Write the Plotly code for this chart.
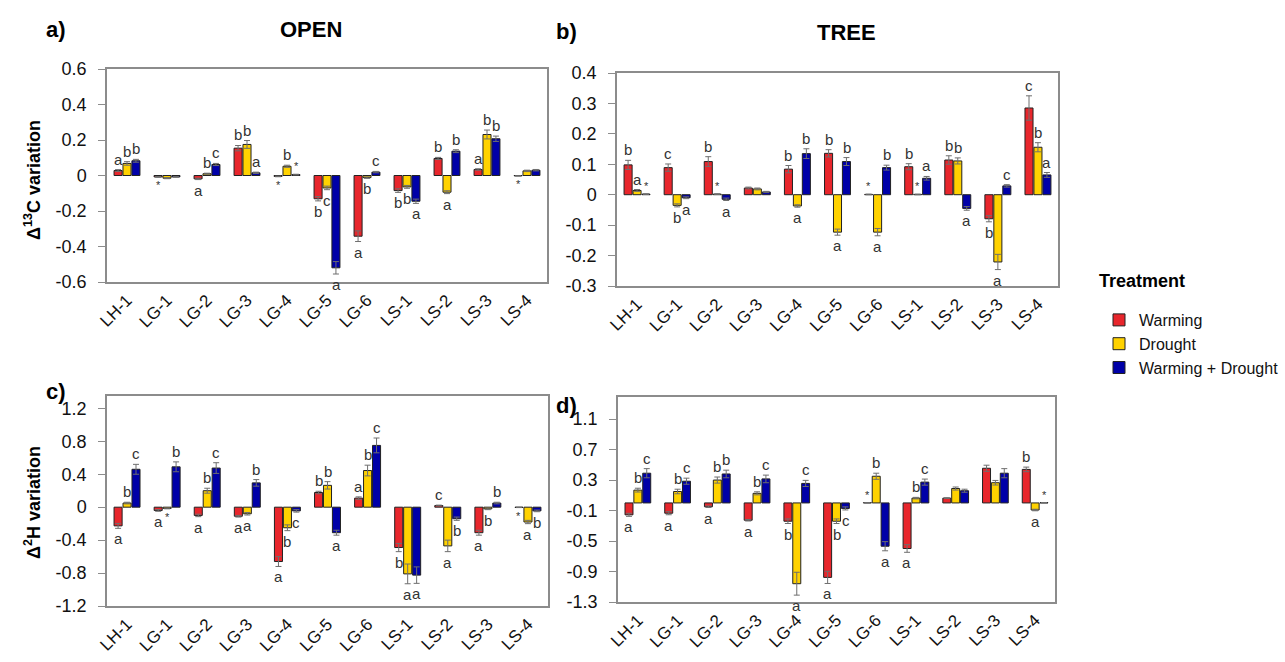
import plotly.graph_objects as go

W, H = 1285, 662

categories = ["LH-1", "LG-1", "LG-2", "LG-3", "LG-4", "LG-5", "LG-6", "LS-1", "LS-2", "LS-3", "LS-4"]
treatments = ["Warming", "Drought", "Warming + Drought"]
colors = ["#E8262C", "#FFD200", "#0000A8"]

# Panel a: OPEN, delta 13C
a_warming = [0.028, -0.008, -0.019, 0.154, -0.005, -0.131, -0.342, -0.085, 0.096, 0.034, -0.002]
a_drought = [0.068, -0.015, 0.010, 0.175, 0.052, -0.070, -0.012, -0.064, -0.094, 0.231, 0.026]
a_wd = [0.083, -0.008, 0.062, 0.015, 0.005, -0.520, 0.019, -0.145, 0.137, 0.207, 0.030]
a_err_w = [0.005, 0.002, 0.004, 0.015, 0.002, 0.012, 0.030, 0.010, 0.006, 0.004, 0.001]
a_err_d = [0.010, 0.003, 0.003, 0.022, 0.006, 0.010, 0.004, 0.008, 0.008, 0.025, 0.004]
a_err_wd = [0.008, 0.002, 0.006, 0.004, 0.002, 0.035, 0.004, 0.012, 0.008, 0.015, 0.004]
a_lab_w = ["a", "*", "a", "b", "*", "b", "a", "b", "b", "a", "*"]
a_lab_d = ["b", "", "b", "b", "b", "c", "b", "b", "a", "b", ""]
a_lab_wd = ["b", "", "c", "a", "*", "a", "c", "a", "b", "b", ""]

# Panel b: TREE, delta 13C
b_warming = [0.098, 0.089, 0.109, 0.022, 0.084, 0.136, 0.001, 0.092, 0.114, -0.079, 0.285]
b_drought = [0.014, -0.035, 0.002, 0.019, -0.037, -0.123, -0.123, 0.001, 0.111, -0.221, 0.156]
b_wd = [0.002, -0.010, -0.015, 0.009, 0.135, 0.109, 0.089, 0.054, -0.045, 0.029, 0.065]
b_err_w = [0.015, 0.012, 0.016, 0.003, 0.012, 0.012, 0.001, 0.010, 0.014, 0.010, 0.040]
b_err_d = [0.003, 0.005, 0.001, 0.003, 0.004, 0.010, 0.012, 0.001, 0.010, 0.025, 0.015]
b_err_wd = [0.001, 0.003, 0.004, 0.002, 0.016, 0.013, 0.008, 0.006, 0.006, 0.004, 0.008]
b_lab_w = ["b", "c", "b", "", "b", "b", "*", "b", "b", "b", "c"]
b_lab_d = ["a", "b", "*", "", "a", "a", "a", "*", "b", "a", "b"]
b_lab_wd = ["*", "a", "a", "", "b", "b", "b", "a", "a", "c", "a"]

# Panel c: OPEN, delta 2H
c_warming = [-0.227, -0.040, -0.100, -0.110, -0.660, 0.178, 0.110, -0.490, 0.020, -0.310, -0.003]
c_drought = [0.050, -0.015, 0.200, -0.080, -0.250, 0.265, 0.445, -0.810, -0.470, -0.020, -0.180]
c_wd = [0.460, 0.490, 0.475, 0.295, -0.045, -0.310, 0.750, -0.825, -0.140, 0.050, -0.045]
c_err_w = [0.030, 0.010, 0.015, 0.010, 0.060, 0.015, 0.015, 0.050, 0.005, 0.030, 0.002]
c_err_d = [0.010, 0.005, 0.030, 0.015, 0.035, 0.045, 0.065, 0.120, 0.070, 0.010, 0.020]
c_err_wd = [0.060, 0.060, 0.065, 0.040, 0.015, 0.030, 0.090, 0.100, 0.020, 0.010, 0.010]
c_lab_w = ["a", "a", "a", "a", "a", "b", "a", "b", "c", "a", "*"]
c_lab_d = ["b", "*", "b", "a", "b", "b", "b", "a", "a", "b", "a"]
c_lab_wd = ["c", "b", "c", "b", "c", "a", "c", "a", "b", "b", "b"]

# Panel d: TREE, delta 2H
d_warming = [-0.156, -0.135, -0.050, -0.227, -0.240, -0.977, 0.003, -0.598, 0.063, 0.455, 0.440]
d_drought = [0.168, 0.150, 0.300, 0.126, -1.060, -0.240, 0.350, 0.063, 0.189, 0.265, -0.093]
d_wd = [0.390, 0.285, 0.380, 0.315, 0.256, -0.072, -0.568, 0.273, 0.160, 0.390, 0.003]
d_err_w = [0.020, 0.020, 0.010, 0.010, 0.030, 0.080, 0.002, 0.050, 0.005, 0.040, 0.030]
d_err_d = [0.025, 0.030, 0.040, 0.020, 0.150, 0.030, 0.040, 0.010, 0.020, 0.030, 0.010]
d_err_wd = [0.060, 0.040, 0.050, 0.050, 0.040, 0.020, 0.060, 0.040, 0.020, 0.060, 0.002]
d_lab_w = ["a", "a", "a", "a", "b", "a", "*", "a", "", "", "b"]
d_lab_d = ["b", "b", "b", "b", "a", "b", "b", "b", "", "", "a"]
d_lab_wd = ["c", "c", "b", "c", "c", "c", "a", "c", "", "", "*"]

a_ticks = [0.6, 0.4, 0.2, 0, -0.2, -0.4, -0.6]
a_ticktext = ["0.6", "0.4", "0.2", "0", "-0.2", "-0.4", "-0.6"]
b_ticks = [0.4, 0.3, 0.2, 0.1, 0, -0.1, -0.2, -0.3]
b_ticktext = ["0.4", "0.3", "0.2", "0.1", "0", "-0.1", "-0.2", "-0.3"]
c_ticks = [1.2, 0.8, 0.4, 0, -0.4, -0.8, -1.2]
c_ticktext = ["1.2", "0.8", "0.4", "0", "-0.4", "-0.8", "-1.2"]
d_ticks = [1.1, 0.7, 0.3, -0.1, -0.5, -0.9, -1.3]
d_ticktext = ["1.1", "0.7", "0.3", "-0.1", "-0.5", "-0.9", "-1.3"]

FONT = "Liberation Sans, Arial, sans-serif"
FRAME = "#8c8c8c"

# panel geometry in pixels: (left, right, top, bottom), y range
panels = [
    dict(px=(107, 547, 69, 282), yr=[-0.6, 0.6], ticks=a_ticks, tt=a_ticktext,
         vals=[a_warming, a_drought, a_wd], errs=[a_err_w, a_err_d, a_err_wd],
         labs=[a_lab_w, a_lab_d, a_lab_wd]),
    dict(px=(617, 1058, 73, 286), yr=[-0.3, 0.4], ticks=b_ticks, tt=b_ticktext,
         vals=[b_warming, b_drought, b_wd], errs=[b_err_w, b_err_d, b_err_wd],
         labs=[b_lab_w, b_lab_d, b_lab_wd]),
    dict(px=(107, 548, 396, 606), yr=[-1.2, 1.35], ticks=c_ticks, tt=c_ticktext,
         vals=[c_warming, c_drought, c_wd], errs=[c_err_w, c_err_d, c_err_wd],
         labs=[c_lab_w, c_lab_d, c_lab_wd]),
    dict(px=(618, 1055, 397, 602), yr=[-1.3, 1.39], ticks=d_ticks, tt=d_ticktext,
         vals=[d_warming, d_drought, d_wd], errs=[d_err_w, d_err_d, d_err_wd],
         labs=[d_lab_w, d_lab_d, d_lab_wd]),
]

fig = go.Figure()
layout = {}
annotations = []
n = len(categories)

for p, P in enumerate(panels):
    idx = "" if p == 0 else str(p + 1)
    xa, ya = "x" + idx, "y" + idx
    l, r, t, b = P["px"]
    xdom = [l / W, r / W]
    ydom = [1 - b / H, 1 - t / H]
    for j in range(3):
        v = P["vals"][j]
        e = P["errs"][j]
        fig.add_trace(go.Bar(
            x=categories, y=v, name=treatments[j], xaxis=xa, yaxis=ya,
            marker=dict(color=colors[j], line=dict(color="#222222", width=1)),
            error_y=dict(type="data", array=e, visible=True, color="#6e6e6e",
                         thickness=1, width=3),
            legendgroup=treatments[j], showlegend=(p == 0),
        ))
        for i in range(n):
            lab = P["labs"][j][i]
            if not lab:
                continue
            val = v[i]
            if val >= 0:
                yy, anc = val + e[i], "bottom"
            else:
                yy, anc = val - e[i], "top"
            annotations.append(dict(
                x=categories[i], y=yy, xref=xa, yref=ya, text=lab, showarrow=False,
                xshift=(j - 1) * 9, yanchor=anc, xanchor="center",
                font=dict(family=FONT, size=15 if lab != "*" else 11, color="#333333"),
            ))
    layout["xaxis" + idx] = dict(
        domain=xdom, anchor=ya, type="category", range=[-0.5, n - 0.5],
        showline=True, mirror=True, linecolor=FRAME, linewidth=1.5,
        ticks="", tickangle=-45, showgrid=False, automargin=False,
        tickfont=dict(family=FONT, size=17, color="#111111"),
    )
    layout["yaxis" + idx] = dict(
        domain=ydom, anchor=xa, range=P["yr"], tickvals=P["ticks"], ticktext=P["tt"],
        showline=True, mirror=True, linecolor=FRAME, linewidth=1.5,
        ticks="outside", ticklen=7, tickcolor=FRAME, showgrid=False, zeroline=False,
        ticklabelstandoff=8, automargin=False,
        tickfont=dict(family=FONT, size=18, color="#111111"),
    )
    # zero line with boundary ticks (overlay axis)
    r0, r1 = P["yr"]
    pos = ydom[0] + (0 - r0) / (r1 - r0) * (ydom[1] - ydom[0])
    ov = str(p + 5)
    layout["xaxis" + ov] = dict(
        domain=xdom, overlaying=xa, anchor="free", position=pos, side="bottom",
        range=[-0.5, n - 0.5], tickvals=[i + 0.5 for i in range(n - 1)],
        showticklabels=False, ticks="outside", ticklen=5, tickcolor=FRAME,
        showline=True, linecolor=FRAME, linewidth=1.2, showgrid=False, zeroline=False,
        automargin=False,
    )

def pa(x, y, text, size, **kw):
    annotations.append(dict(x=x / W, y=1 - y / H, xref="paper", yref="paper", text=text,
                            showarrow=False, xanchor="center", yanchor="middle",
                            font=dict(family=FONT, size=size, color="#000000"), **kw))

pa(56, 30, "<b>a)</b>", 22)
pa(311, 29, "<b>OPEN</b>", 22)
pa(566, 31, "<b>b)</b>", 22)
pa(846, 32, "<b>TREE</b>", 22)
pa(56, 391, "<b>c)</b>", 22)
pa(566, 405, "<b>d)</b>", 22)
pa(33, 180, "<b>Δ<sup>13</sup>C variation</b>", 18, textangle=-90)
pa(33, 503, "<b>Δ<sup>2</sup>H variation</b>", 18, textangle=-90)
pa(1097, 281, "<b>Treatment</b>", 18)
annotations[-1]["xanchor"] = "left"

layout["annotations"] = annotations
fig.update_layout(
    **layout,
    width=W, height=H, margin=dict(l=0, r=0, t=0, b=0, autoexpand=False),
    paper_bgcolor="white", plot_bgcolor="white",
    barmode="group", bargap=0.33, bargroupgap=0.1,
    font=dict(family=FONT),
    legend=dict(
        x=1099 / W, y=1 - 303 / H, xanchor="left", yanchor="top",
        font=dict(family=FONT, size=16, color="#111"), tracegroupgap=0,
        itemwidth=30, bgcolor="rgba(0,0,0,0)",
    ),
)

fig.write_html("out.html")
